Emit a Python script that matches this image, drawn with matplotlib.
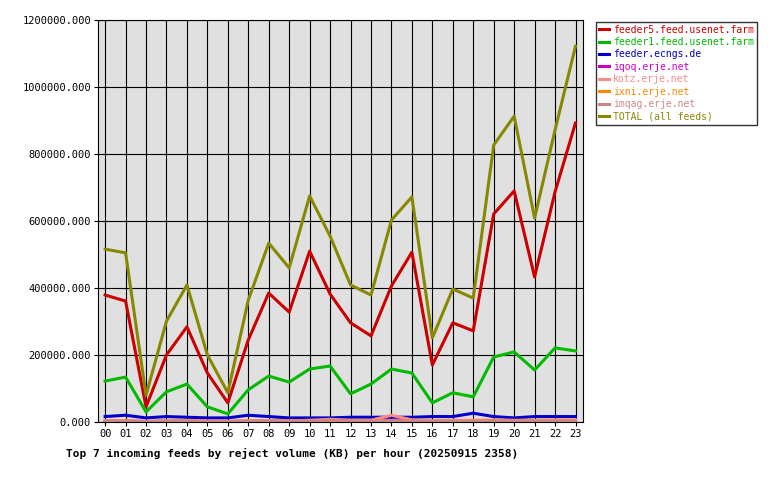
import numpy as np
import matplotlib.pyplot as plt

hours = [f"{h:02d}" for h in range(24)]

feeder5 = [379, 361, 45, 200, 284, 146, 57, 245, 385, 328, 510, 382, 296, 257, 406, 507,
           170, 296, 272, 621, 690, 433, 687, 893]
feeder1 = [122, 134, 30, 90, 113, 45, 24, 96, 137, 119, 158, 167, 84, 113, 158, 146,
           57, 87, 75, 194, 209, 155, 221, 212]
ecngs = [16, 20, 12, 16, 14, 12, 12, 20, 16, 12, 12, 12, 14, 14, 14, 14,
         16, 16, 26, 16, 12, 16, 16, 16]
iqoq = [3, 3, 1, 2, 3, 2, 1, 3, 3, 2, 3, 3, 2, 2, 4, 3, 2, 3, 3, 4, 3, 3, 3, 4]
kotz = [4, 4, 2, 3, 4, 3, 2, 4, 4, 3, 5, 8, 5, 5, 20, 6, 4, 5, 5, 6, 5, 5, 6, 6]
ixni = [2, 2, 1, 2, 2, 1, 1, 2, 2, 2, 2, 2, 2, 2, 3, 2, 2, 2, 2, 3, 2, 2, 3, 3]
imqag = [2, 2, 1, 2, 2, 1, 1, 2, 2, 2, 2, 6, 2, 2, 3, 2, 2, 2, 2, 3, 2, 2, 3, 3]
total = [516, 505, 80, 301, 409, 200, 87, 364, 534, 460, 675, 555, 409, 379, 603, 672,
         251, 397, 370, 827, 913, 609, 872, 1122]

series = [
    ("feeder5.feed.usenet.farm", feeder5, "#cc0000"),
    ("feeder1.feed.usenet.farm", feeder1, "#00bb00"),
    ("feeder.ecngs.de", ecngs, "#0000cc"),
    ("iqoq.erje.net", iqoq, "#cc00cc"),
    ("kotz.erje.net", kotz, "#ff8888"),
    ("ixni.erje.net", ixni, "#ff8800"),
    ("imqag.erje.net", imqag, "#cc8888"),
    ("TOTAL (all feeds)", total, "#888800"),
]

plt.rcParams['font.family'] = 'DejaVu Sans Mono'
fig = plt.figure(figsize=(7.8, 4.8), dpi=100)
ax = fig.add_axes([0.1256, 0.121, 0.6214, 0.837])
ax.set_facecolor('#e0e0e0')

x = np.arange(24)
for name, vals, col in series:
    ax.plot(x, np.array(vals) * 1000, color=col, lw=2.2, label=name)

ax.set_xlim(-0.35, 23.35)
ax.set_ylim(0, 1200000)
ax.set_xticks(x)
ax.set_xticklabels(hours, fontsize=7.5)
ax.set_yticks(np.arange(0, 1200001, 200000))
ax.set_yticklabels([f"{v:.3f}" for v in np.arange(0, 1200001, 200000)], fontsize=7.5)
ax.grid(True, color='black', lw=0.8)
ax.set_axisbelow(True)
ax.tick_params(length=3, pad=2)
fig.text(0.085, 0.048, "Top 7 incoming feeds by reject volume (KB) per hour (20250915 2358)",
         fontsize=8, fontweight='bold')

leg = fig.legend(loc='upper left', bbox_to_anchor=(0.758, 0.965), fontsize=7,
                 frameon=True, fancybox=False, edgecolor='black', handlelength=1.0,
                 handletextpad=0.4, labelspacing=0.25, borderpad=0.3)
for t, (_, _, col) in zip(leg.get_texts(), series):
    t.set_color(col)

fig.savefig("out.png", dpi=100)
